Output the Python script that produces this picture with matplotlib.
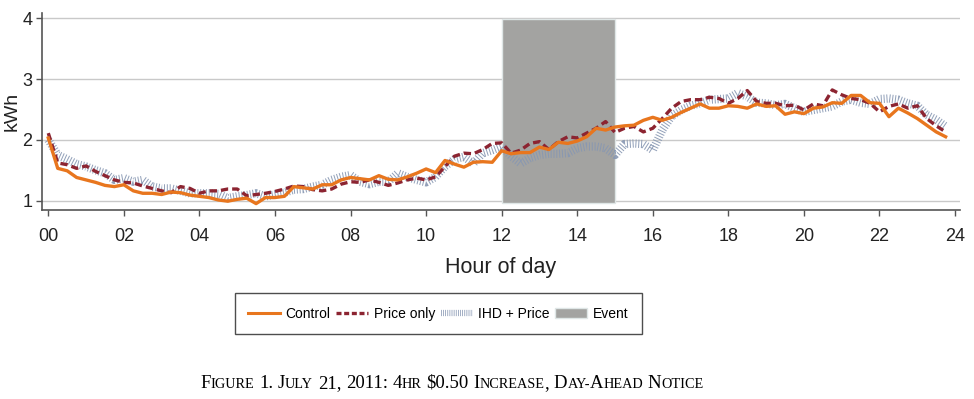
import matplotlib
matplotlib.use("Agg")
import matplotlib.pyplot as plt
import matplotlib.patches as mpatches
import numpy as np

# 15-minute intervals, 00:00 .. 23:45
hours = np.arange(96) * 0.25

control = [
    2.03, 1.53, 1.49, 1.38, 1.34, 1.30, 1.25, 1.23, 1.26, 1.16, 1.12, 1.12,
    1.10, 1.14, 1.13, 1.09, 1.07, 1.05, 1.01, 0.99, 1.02, 1.04, 0.95, 1.05,
    1.05, 1.07, 1.23, 1.21, 1.19, 1.26, 1.26, 1.34, 1.38, 1.36, 1.34, 1.41,
    1.35, 1.34, 1.39, 1.45, 1.52, 1.46, 1.66, 1.60, 1.55, 1.63, 1.64, 1.63,
    1.82, 1.77, 1.79, 1.79, 1.88, 1.84, 1.96, 1.94, 1.98, 2.05, 2.19, 2.16,
    2.21, 2.23, 2.24, 2.32, 2.37, 2.32, 2.37, 2.45, 2.52, 2.59, 2.52, 2.52,
    2.56, 2.55, 2.52, 2.59, 2.55, 2.56, 2.42, 2.46, 2.43, 2.52, 2.54, 2.61,
    2.60, 2.73, 2.73, 2.61, 2.60, 2.38, 2.52, 2.44, 2.35, 2.24, 2.13, 2.05,
]

price_only = [
    2.11, 1.62, 1.59, 1.53, 1.57, 1.48, 1.41, 1.34, 1.30, 1.29, 1.24, 1.20,
    1.16, 1.13, 1.23, 1.20, 1.12, 1.16, 1.16, 1.19, 1.19, 1.08, 1.10, 1.12,
    1.15, 1.19, 1.24, 1.23, 1.18, 1.16, 1.19, 1.27, 1.31, 1.30, 1.34, 1.30,
    1.25, 1.29, 1.34, 1.37, 1.34, 1.39, 1.56, 1.73, 1.78, 1.77, 1.84, 1.94,
    1.95, 1.78, 1.83, 1.94, 1.97, 1.84, 1.97, 2.05, 2.03, 2.11, 2.19, 2.30,
    2.12, 2.19, 2.22, 2.13, 2.19, 2.35, 2.52, 2.63, 2.66, 2.66, 2.70, 2.68,
    2.60, 2.68, 2.81, 2.63, 2.60, 2.60, 2.56, 2.57, 2.49, 2.59, 2.56, 2.82,
    2.74, 2.68, 2.66, 2.60, 2.46, 2.55, 2.59, 2.52, 2.56, 2.35, 2.23, 2.13,
]

ihd_price = [
    2.00, 1.75, 1.68, 1.60, 1.56, 1.50, 1.45, 1.34, 1.37, 1.31, 1.34, 1.23,
    1.20, 1.20, 1.16, 1.12, 1.12, 1.12, 1.11, 1.04, 1.07, 1.09, 1.12, 1.07,
    1.10, 1.13, 1.18, 1.19, 1.23, 1.26, 1.34, 1.39, 1.42, 1.31, 1.27, 1.31,
    1.31, 1.45, 1.39, 1.34, 1.30, 1.39, 1.56, 1.68, 1.72, 1.61, 1.78, 1.83,
    1.89, 1.73, 1.61, 1.70, 1.75, 1.77, 1.77, 1.78, 1.86, 1.89, 1.89, 1.86,
    1.75, 1.93, 1.94, 1.93, 1.83, 2.16, 2.39, 2.49, 2.56, 2.60, 2.66, 2.67,
    2.68, 2.77, 2.71, 2.61, 2.60, 2.57, 2.59, 2.52, 2.46, 2.49, 2.52, 2.55,
    2.63, 2.66, 2.61, 2.59, 2.67, 2.68, 2.66, 2.60, 2.56, 2.41, 2.33, 2.22,
]

event_start, event_end = 12, 15
xtick_vals = list(range(0, 25, 2))
xtick_labels = [f"{h:02d}" for h in xtick_vals]
ytick_vals = [1, 2, 3, 4]

ORANGE = "#e8761e"
MAROON = "#8c2431"
SLATE = "#8797b2"
EVENT_GRAY = "#a3a3a1"

SANS = ["Liberation Sans", "DejaVu Sans"]
SERIF = ["Liberation Serif", "DejaVu Serif"]


def small_caps(fig, xc, y, text, big=13.5, small=10.3):
    """Lay out text in small caps, centred on xc (figure coords)."""
    renderer = fig.canvas.get_renderer()
    W = fig.bbox.width
    space = big * 0.25 * fig.dpi / 72.0
    pieces = []
    for word in text.split(" "):
        runs = []
        for ch in word:
            size = small if (ch.islower() or ch == "-") else big
            s = ch.upper()
            if runs and runs[-1][1] == size:
                runs[-1][0] += s
            else:
                runs.append([s, size])
        pieces.append(runs)
    artists = []
    x = 0.0
    for wi, runs in enumerate(pieces):
        if wi > 0:
            x += space
        for s, size in runs:
            t = fig.text(0, y, s.replace("$", r"\$"), fontsize=size,
                         family=SERIF, va="baseline", ha="left")
            w = t.get_window_extent(renderer).width
            artists.append((t, x))
            x += w
    x0 = xc * W - x / 2.0
    for t, off in artists:
        t.set_x((x0 + off) / W)


fig = plt.figure(figsize=(9.74, 3.99), dpi=100)
ax = fig.add_axes([0.0431, 0.474, 0.9425, 0.494])

ax.set_xlim(-0.167, 24.13)
ax.set_ylim(0.847, 4.09)

for v in ytick_vals:
    ax.axhline(v, color="#c9c9c9", lw=1.0, zorder=0)

ax.add_patch(mpatches.Rectangle(
    (event_start, 0.96), event_end - event_start, 3.03,
    facecolor=EVENT_GRAY, edgecolor="#dfe6e6", lw=1.0, zorder=1))

ax.plot(hours, ihd_price, color=SLATE, lw=6.0, alpha=0.9,
        linestyle=(0, (0.12, 0.22)), solid_capstyle="butt", zorder=2)
ax.plot(hours, price_only, color=MAROON, lw=2.4,
        linestyle=(0, (2.2, 1.2)), zorder=3)
ax.plot(hours, control, color=ORANGE, lw=2.4, zorder=4)

ax.set_xticks(xtick_vals)
ax.set_xticklabels(xtick_labels)
ax.set_yticks(ytick_vals)
for lab in ax.get_xticklabels() + ax.get_yticklabels():
    lab.set_family(SANS)
    lab.set_fontsize(13)
    lab.set_color("#222222")
ax.tick_params(axis="both", direction="out", length=4, width=1,
               color="#555555")
ax.tick_params(axis="x", pad=9)
ax.tick_params(axis="y", pad=3)

for side in ("top", "right"):
    ax.spines[side].set_visible(False)
for side in ("left", "bottom"):
    ax.spines[side].set_color("#555555")
    ax.spines[side].set_linewidth(1.2)

ax.set_xlabel("Hour of day", family=SANS, fontsize=15.5, color="#222222",
              labelpad=9)
ax.set_ylabel("kWh", family=SANS, fontsize=14, color="#222222",
              labelpad=1)

handles = [
    plt.Line2D([], [], color=ORANGE, lw=2.2),
    plt.Line2D([], [], color=MAROON, lw=2.4, linestyle=(0, (1.5, 0.8))),
    plt.Line2D([], [], color=SLATE, lw=4.5, linestyle=(0, (0.12, 0.22)),
               solid_capstyle="butt"),
    mpatches.Patch(facecolor=EVENT_GRAY, edgecolor="#dfe6e6"),
]
labels = ["Control", "Price only", "IHD + Price", "Event"]
leg = fig.legend(handles, labels, loc="center", ncol=4,
                 bbox_to_anchor=(0.45, 0.214), frameon=True, fancybox=False,
                 edgecolor="#222222", prop={"family": SANS, "size": 10},
                 handlelength=2.3, handletextpad=0.4, columnspacing=0.4,
                 borderpad=0.95)
leg.get_frame().set_linewidth(1.0)

small_caps(fig, 0.464, 0.028,
           "Figure 1. July 21, 2011: 4hr $0.50 Increase, Day-Ahead Notice")

fig.savefig("out.png", dpi=100)
plt.close(fig)
